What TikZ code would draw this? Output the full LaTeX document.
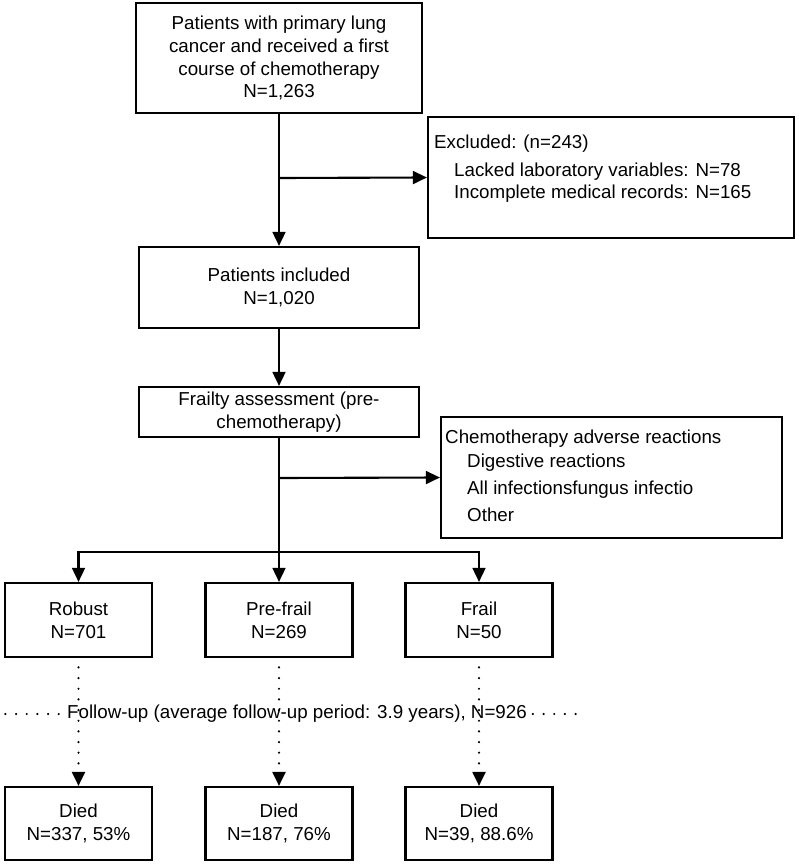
\documentclass[tikz,border=0pt]{standalone}
\usepackage{fontspec}
\setmainfont{Liberation Sans}
\tikzset{>=stealth}
\usetikzlibrary{arrows.meta}
\usetikzlibrary{shapes,positioning}
\colorlet{background}{white}
\colorlet{penColor}{black}
\newcommand{\boxfont}{\fontsize{16}{19.5}\selectfont}
\tikzset{
  flowbox/.style={draw=penColor, line width=1.8pt, inner sep=0pt, align=center, font=\boxfont},
  listtext/.style={anchor=west, inner sep=0pt, font=\boxfont},
  flowline/.style={draw=penColor, line width=1.8pt},
  dotline/.style={draw=penColor, line width=2.1pt, line cap=round, dash pattern=on 0pt off 9.1pt}
}

\begin{document}
\begin{tikzpicture}[x=0.03cm,y=-0.03cm,>={Triangle[length=12pt,width=11pt]}]
    \useasboundingbox[fill=background] (0,0) rectangle (798,864);
    \node[flowbox, minimum width=8.58cm, minimum height=3.3cm] (source) at (279,58) {Patients with primary lung\\cancer and received a first\\course of chemotherapy\\N=1,263};
    \node[flowbox, minimum width=10.98cm, minimum height=3.63cm] (excluded) at (611,177.5) {};
    \node[listtext] (exclTitle) at (434,144) {Excluded: (n=243)};
    \node[listtext] (exclLab) at (454,172) {Lacked laboratory variables: N=78};
    \node[listtext] (exclRec) at (454,194) {Incomplete medical records: N=165};
    \node[flowbox, minimum width=8.4cm, minimum height=2.43cm] (included) at (279,287.5) {Patients included\\N=1,020};
    \node[flowbox, minimum width=8.4cm, minimum height=1.5cm] (frailty) at (279,412) {Frailty assessment (pre-\\chemotherapy)};
    \node[flowbox, minimum width=10.23cm, minimum height=3.63cm] (adverse) at (611.5,477.5) {};
    \node[listtext] (advTitle) at (445,439) {Chemotherapy adverse reactions};
    \node[listtext] (advDig) at (467,463) {Digestive reactions};
    \node[listtext] (advInf) at (467,490) {All infectionsfungus infectio};
    \node[listtext] (advOther) at (467,515) {Other};
    \node[flowbox, minimum width=4.41cm, minimum height=2.22cm] (robust) at (78.5,620) {Robust\\N=701};
    \node[flowbox, minimum width=4.41cm, minimum height=2.22cm] (prefrail) at (279,620) {Pre-frail\\N=269};
    \node[flowbox, minimum width=4.41cm, minimum height=2.22cm] (frail) at (479,620) {Frail\\N=50};
    \node[flowbox, minimum width=4.41cm, minimum height=2.19cm] (diedRobust) at (78.5,823.5) {Died\\N=337, 53\%};
    \node[flowbox, minimum width=4.41cm, minimum height=2.19cm] (diedPrefrail) at (279,823.5) {Died\\N=187, 76\%};
    \node[flowbox, minimum width=4.41cm, minimum height=2.19cm] (diedFrail) at (479,823.5) {Died\\N=39, 88.6\%};
    \node[inner sep=0pt, font=\boxfont] (followup) at (297,714) {Follow-up (average follow-up period: 3.9 years), N=926};
    \coordinate (exclSplit) at (279,178);
    \coordinate (advSplit) at (279,478);
    \coordinate (groupSplit) at (279,552);
    \coordinate (fuLeft) at (2,714);
    \coordinate (fuRight) at (584,714);
    \draw[flowline, ->] (source) -- (included);
    \draw[flowline, ->] (exclSplit) -- (excluded.west);
    \draw[flowline, ->] (included) -- (frailty);
    \draw[flowline] (frailty) -- (groupSplit);
    \draw[flowline, ->] (advSplit) -- (adverse.west);
    \draw[flowline, ->] (groupSplit) -| (robust.north);
    \draw[flowline, ->] (groupSplit) -- (prefrail.north);
    \draw[flowline, ->] (groupSplit) -| (frail.north);
    \draw[dotline, ->, shorten <=8pt] (robust) -- (diedRobust);
    \draw[dotline, ->, shorten <=8pt] (prefrail) -- (diedPrefrail);
    \draw[dotline, ->, shorten <=8pt] (frail) -- (diedFrail);
    \draw[dotline, shorten <=7pt] (followup.west) -- (fuLeft);
    \draw[dotline, shorten <=5pt] (followup.east) -- (fuRight);
  \end{tikzpicture}
\end{document}
